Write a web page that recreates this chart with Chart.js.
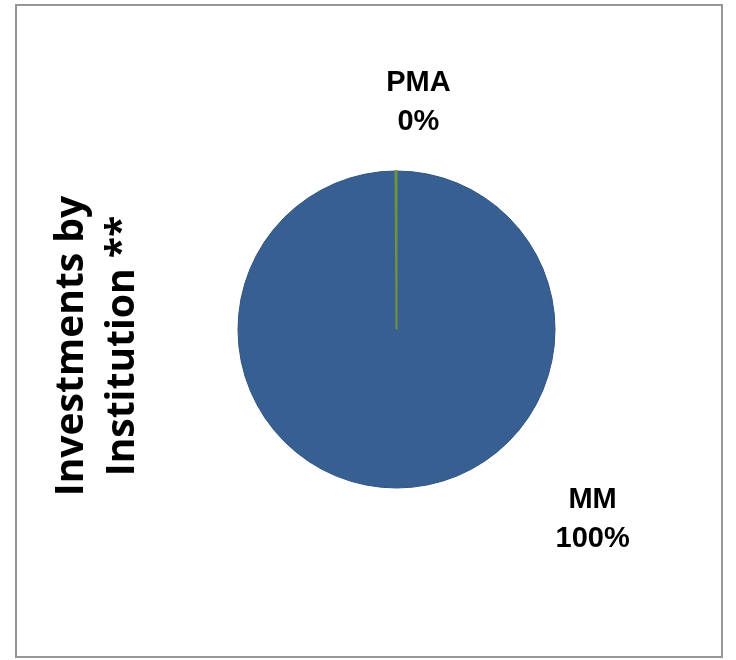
<!DOCTYPE html>
<html>
<head>
<meta charset="utf-8">
<script src="https://cdn.jsdelivr.net/npm/chart.js@4"></script>
<style>
  body { margin: 0; background: #fff; }
  #box { position: absolute; left: 15px; top: 4px; width: 704px; height: 650px; border: 2px solid #969696; }
</style>
</head>
<body>
<div id="box"><canvas id="pie" width="704" height="650"></canvas></div>
<script>
const labels = ['MM', 'PMA'];
const values = [100, 0.1];
const colors = ['#375F92', '#71923A'];
const titleLines = ['Investments by', 'Institution **'];

// where each data label sits, relative to the pie (angle in degrees, distance in radii)
const labelSpots = [
  { angle: 44, dist: 1.72 },
  { angle: -84.5, dist: 1.44 }
];

const sideTitle = {
  id: 'sideTitle',
  afterDraw(chart) {
    const ctx = chart.ctx;
    ctx.save();
    ctx.fillStyle = '#000';
    ctx.font = 'bold 36px "Open Sans"';
    // fit the first line to the width it has in the original
    const size = 36 * 300 / ctx.measureText(titleLines[0]).width;
    ctx.font = 'bold ' + size.toFixed(1) + 'px "Open Sans"';
    ctx.textAlign = 'center';
    ctx.textBaseline = 'middle';
    ctx.translate(0, 340);
    ctx.rotate(-Math.PI / 2);
    titleLines.forEach((t, i) => ctx.fillText(t, 0, 55 + i * 51));
    ctx.restore();
  }
};

const pctLabels = {
  id: 'pctLabels',
  afterDatasetsDraw(chart) {
    const ctx = chart.ctx;
    const arc = chart.getDatasetMeta(0).data[0];
    const total = values.reduce((a, b) => a + b, 0);
    ctx.save();
    ctx.fillStyle = '#000';
    ctx.font = 'bold 29px "Liberation Sans", Arial';
    ctx.textAlign = 'center';
    ctx.textBaseline = 'middle';
    labels.forEach((lab, i) => {
      const a = labelSpots[i].angle * Math.PI / 180;
      const d = labelSpots[i].dist * arc.outerRadius;
      const x = arc.x + Math.cos(a) * d;
      const y = arc.y + Math.sin(a) * d;
      const pct = Math.round(values[i] / total * 100) + '%';
      ctx.fillText(lab, x, y - 19);
      ctx.fillText(pct, x, y + 20);
    });
    ctx.restore();
  }
};

new Chart(document.getElementById('pie'), {
  type: 'pie',
  data: {
    labels: labels,
    datasets: [{
      data: values,
      backgroundColor: colors,
      borderColor: ['#2F5380', '#71923A'],
      borderWidth: [1, 2]
    }]
  },
  options: {
    responsive: false,
    animation: false,
    layout: { padding: { left: 146, right: 91, top: 164, bottom: 167 } },
    plugins: {
      legend: { display: false },
      tooltip: { enabled: false }
    }
  },
  plugins: [sideTitle, pctLabels]
});
</script>
</body>
</html>
